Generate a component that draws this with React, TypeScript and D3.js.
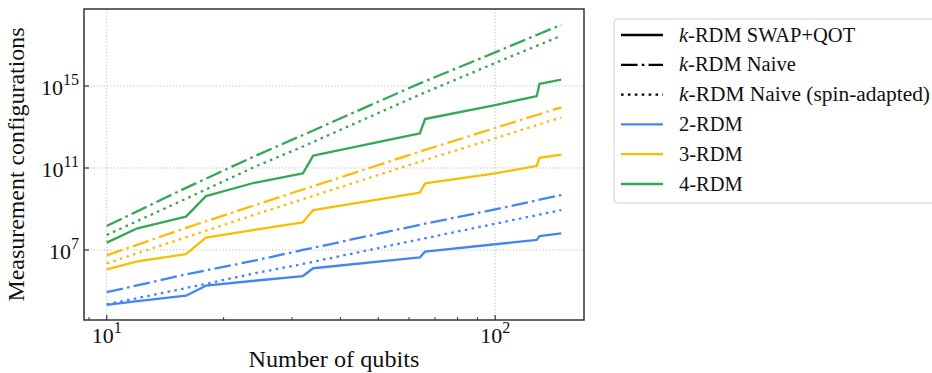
import React from "react";
import * as d3 from "d3";

const swapQubits = [10, 12, 16, 18, 24, 32, 34, 64, 66, 100, 128, 130, 148];
const swap2 = [4.32, 4.51, 4.77, 5.26, 5.5, 5.73, 6.11, 6.64, 6.92, 7.28, 7.49, 7.68, 7.81];
const swap3 = [6.06, 6.45, 6.8, 7.6, 7.98, 8.35, 8.95, 9.8, 10.25, 10.74, 11.1, 11.5, 11.65];
const swap4 = [7.36, 8.06, 8.63, 9.63, 10.28, 10.74, 11.6, 12.69, 13.39, 14.07, 14.51, 15.1, 15.31];

const naiveQubits = [10, 16, 24, 32, 64, 100, 148];
const naive2 = [4.94, 5.81, 6.48, 7.0, 8.23, 8.98, 9.68];
const naive3 = [6.74, 8.08, 9.18, 9.95, 11.8, 12.95, 13.96];
const naive4 = [8.17, 10.03, 11.57, 12.61, 15.13, 16.64, 17.99];
const spin2 = [4.35, 5.14, 5.86, 6.32, 7.52, 8.28, 8.95];
const spin3 = [6.35, 7.62, 8.72, 9.48, 11.31, 12.45, 13.47];
const spin4 = [7.73, 9.5, 11.05, 12.05, 14.58, 16.12, 17.45];

const rdmLabels = ["2-RDM", "3-RDM", "4-RDM"];
const rdmColors = ["#4285f4", "#fbbc04", "#34a853"];
const styleLabels = ["SWAP+QOT", "Naive", "Naive (spin-adapted)"];

const xTicks = [10, 100];
const yTickExps = [7, 11, 15];

const W = 932;
const H = 373;
const m = { left: 84, right: 584, top: 9, bottom: 320 };
const LW = 2.3;
const DASHDOT = "16.6 4.2 2.6 4.2";
const DOT = "2.6 4.3";
const FONT = "Liberation Serif";

const App = () => {
  const x = d3
    .scaleLog()
    .domain([Math.pow(10, 0.9415), Math.pow(10, 2.2287)])
    .range([m.left, m.right]);
  const y = d3
    .scaleLog()
    .domain([Math.pow(10, 3.585), Math.pow(10, 18.756)])
    .range([m.bottom, m.top]);

  const line = d3
    .line<[number, number]>()
    .x((d) => x(d[0]))
    .y((d) => y(Math.pow(10, d[1])));

  const series = [
    { xs: swapQubits, sets: [swap2, swap3, swap4], dash: null },
    { xs: naiveQubits, sets: [naive2, naive3, naive4], dash: DASHDOT },
    { xs: naiveQubits, sets: [spin2, spin3, spin4], dash: DOT },
  ];

  // minor ticks on x (2..9 x 10^k inside the domain)
  const [x0, x1] = x.domain();
  const minor: number[] = [];
  for (let p = 0; p < 3; p++) {
    for (let k = 2; k <= 9; k++) {
      const v = k * Math.pow(10, p);
      if (v > x0 && v < x1) minor.push(v);
    }
  }

  const legendRows = [
    { label: styleLabels[0], color: "#000", dash: null, k: true, len: 0 },
    { label: styleLabels[1], color: "#000", dash: DASHDOT, k: true, len: 0 },
    { label: styleLabels[2], color: "#000", dash: DOT, k: true, len: 251 },
    { label: rdmLabels[0], color: rdmColors[0], dash: null, k: false, len: 0 },
    { label: rdmLabels[1], color: rdmColors[1], dash: null, k: false, len: 0 },
    { label: rdmLabels[2], color: rdmColors[2], dash: null, k: false, len: 0 },
  ];

  return (
    <div style={{ position: "absolute", left: 0, top: 0 }}>
      <svg width={W} height={H} style={{ display: "block" }}>
        <rect width={W} height={H} fill="#fff" />

        {/* grid */}
        {xTicks.map((t) => (
          <line key={"gx" + t} x1={x(t)} x2={x(t)} y1={m.top} y2={m.bottom}
            stroke="#b0b0b0" strokeWidth={1} strokeDasharray="1 2.3" />
        ))}
        {yTickExps.map((e) => (
          <line key={"gy" + e} x1={m.left} x2={m.right} y1={y(Math.pow(10, e))} y2={y(Math.pow(10, e))}
            stroke="#b0b0b0" strokeWidth={1} strokeDasharray="1 2.3" />
        ))}

        {/* curves */}
        {series.map((s, si) =>
          s.sets.map((vals, ki) => (
            <path key={si + "-" + ki}
              d={line(s.xs.map((q, i) => [q, vals[i]] as [number, number])) || ""}
              fill="none" stroke={rdmColors[ki]} strokeWidth={LW}
              strokeDasharray={s.dash || undefined} strokeLinejoin="round" />
          ))
        )}

        {/* ticks */}
        {xTicks.map((t) => (
          <line key={"tx" + t} x1={x(t)} x2={x(t)} y1={m.bottom} y2={m.bottom - 5} stroke="#333" strokeWidth={1.2} />
        ))}
        {minor.map((t) => (
          <line key={"mx" + t} x1={x(t)} x2={x(t)} y1={m.bottom} y2={m.bottom - 3} stroke="#333" strokeWidth={1} />
        ))}
        {yTickExps.map((e) => (
          <line key={"ty" + e} x1={m.left} x2={m.left + 5} y1={y(Math.pow(10, e))} y2={y(Math.pow(10, e))} stroke="#333" strokeWidth={1.2} />
        ))}

        {/* frame */}
        <rect x={m.left} y={m.top} width={m.right - m.left} height={m.bottom - m.top}
          fill="none" stroke="#333" strokeWidth={1.5} />

        {/* tick labels */}
        {xTicks.map((t) => (
          <text key={"lx" + t} x={x(t)} y={343} textAnchor="middle" fontFamily={FONT} fontSize={22} fill="#111">
            10<tspan dy={-10} fontSize={16}>{Math.round(Math.log10(t))}</tspan>
          </text>
        ))}
        {yTickExps.map((e) => (
          <text key={"ly" + e} x={79} y={y(Math.pow(10, e)) + 9} textAnchor="end" fontFamily={FONT} fontSize={22} fill="#111">
            10<tspan dy={-10} fontSize={16}>{e}</tspan>
          </text>
        ))}

        {/* axis labels */}
        <text x={(m.left + m.right) / 2} y={367} textAnchor="middle" fontFamily={FONT} fontSize={23}
          textLength={171} lengthAdjust="spacingAndGlyphs" fill="#111">
          Number of qubits
        </text>
        <text transform={`translate(24,${(m.top + m.bottom) / 2}) rotate(-90)`} textAnchor="middle"
          fontFamily={FONT} fontSize={23} textLength={274} lengthAdjust="spacingAndGlyphs" fill="#111">
          Measurement configurations
        </text>

        {/* legend */}
        <rect x={614} y={19} width={340} height={184} rx={4} fill="#fff" stroke="#d0d0d0" strokeWidth={1} />
        {legendRows.map((r, i) => {
          const cy = 35 + i * 29.8;
          return (
            <g key={"leg" + i}>
              <line x1={621} x2={663} y1={cy} y2={cy} stroke={r.color} strokeWidth={LW}
                strokeDasharray={r.dash || undefined} />
              <text x={679} y={cy + 6.5} fontFamily={FONT} fontSize={20.5} fill="#111"
                textLength={r.len || undefined} lengthAdjust={r.len ? "spacingAndGlyphs" : undefined}>
                {r.k ? (
                  <>
                    <tspan fontStyle="italic">k</tspan>-RDM {r.label}
                  </>
                ) : (
                  r.label
                )}
              </text>
            </g>
          );
        })}
      </svg>
    </div>
  );
};

export default App;
